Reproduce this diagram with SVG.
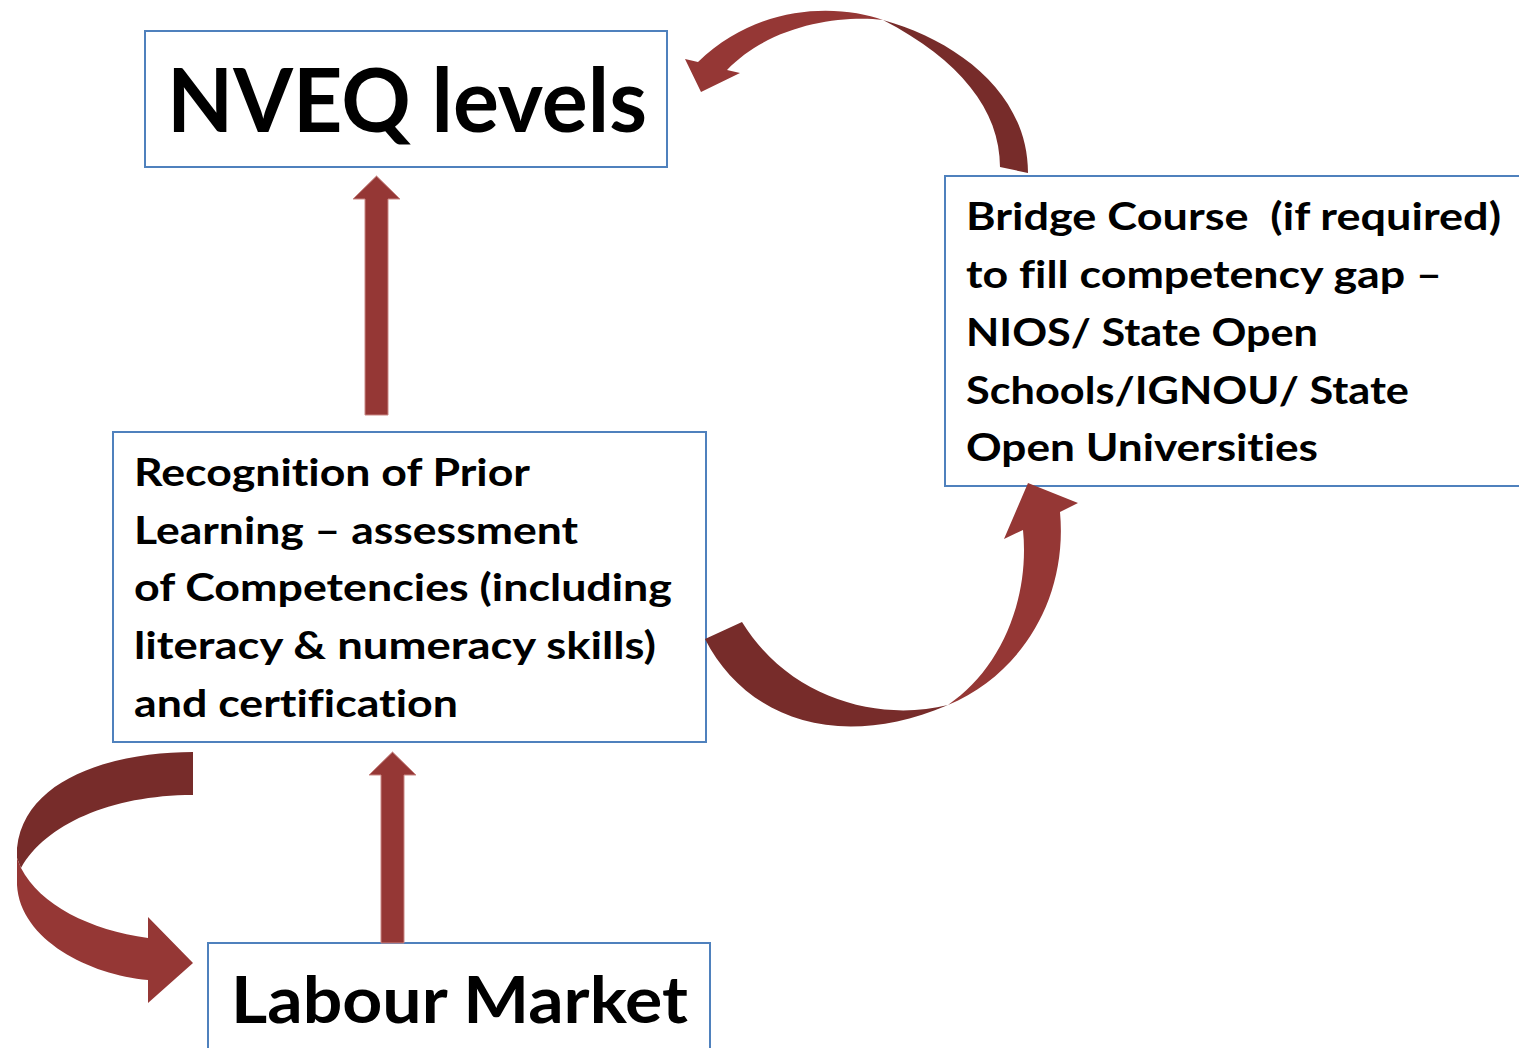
<svg xmlns="http://www.w3.org/2000/svg" width="1519" height="1048" viewBox="0 0 1519 1048">
  <style>
    .box { fill: #ffffff; stroke: #4f81bd; stroke-width: 2; }
    .txt { font-family: Lato, "Open Sans", "Liberation Sans", sans-serif; font-weight: bold; fill: #000000; white-space: pre; font-variant-ligatures: none; }
    .body { font-size: 38px; }
    .big { font-size: 88px; }
    .mid { font-size: 65px; }
    .front { fill: #953735; }
    .back { fill: #772c2a; }
    .straight { fill: #953735; stroke: #c98784; stroke-width: 1; }
  </style>
  <rect width="1519" height="1048" fill="#ffffff"/>

  <g id="node-nveq">
    <rect class="box" x="145" y="31" width="522" height="136"/>
    <text class="txt big" x="167" y="132" textLength="480" lengthAdjust="spacingAndGlyphs">NVEQ levels</text>
  </g>

  <g id="node-bridge">
    <rect class="box" x="945" y="176" width="590" height="310"/>
    <text class="txt body" x="966" y="230" textLength="535" lengthAdjust="spacingAndGlyphs" xml:space="preserve">Bridge Course  (if required)</text>
    <text class="txt body" x="966" y="288" textLength="476" lengthAdjust="spacingAndGlyphs">to fill competency gap –</text>
    <text class="txt body" x="966" y="346" textLength="352" lengthAdjust="spacingAndGlyphs">NIOS/ State Open</text>
    <text class="txt body" x="966" y="404" textLength="443" lengthAdjust="spacingAndGlyphs">Schools/IGNOU/ State</text>
    <text class="txt body" x="966" y="461" textLength="352" lengthAdjust="spacingAndGlyphs">Open Universities</text>
  </g>

  <g id="node-rpl">
    <rect class="box" x="113" y="432" width="593" height="310"/>
    <text class="txt body" x="134" y="486" textLength="396" lengthAdjust="spacingAndGlyphs">Recognition of Prior</text>
    <text class="txt body" x="134" y="544" textLength="444" lengthAdjust="spacingAndGlyphs">Learning – assessment</text>
    <text class="txt body" x="134" y="601" textLength="538" lengthAdjust="spacingAndGlyphs">of Competencies (including</text>
    <text class="txt body" x="134" y="659" textLength="522" lengthAdjust="spacingAndGlyphs">literacy &amp; numeracy skills)</text>
    <text class="txt body" x="134" y="717" textLength="324" lengthAdjust="spacingAndGlyphs">and certification</text>
  </g>

  <g id="node-labour">
    <rect class="box" x="208" y="943" width="502" height="120"/>
    <text class="txt mid" x="231" y="1023" textLength="457" lengthAdjust="spacingAndGlyphs">Labour Market</text>
  </g>

  <g id="connectors">
    <!-- RPL up to NVEQ levels -->
    <polygon class="straight" points="365,415 388,415 388,199 400,199 376.5,176 353,199 365,199"/>
    <!-- Labour Market up to RPL -->
    <polygon class="straight" points="381,943 404,943 404,775 416,775 392.5,752 369,775 381,775"/>

    <!-- Bridge Course back over to NVEQ levels -->
    <path class="back" d="M 883 20 C 955 40, 1028 92, 1028 173 L 1000 167 C 1000 110, 960 60, 883 20 Z"/>
    <path class="front" d="M 883 20 C 840 5, 760 2, 698 62 L 685 59 L 701 92 L 740 73 L 727 70 C 770 25, 840 15, 883 20 Z"/>

    <!-- RPL round to Bridge Course -->
    <path class="back" d="M 705 639 C 742 712, 830 755, 948 705 C 880 722, 790 700, 742 622 Z"/>
    <path class="front" d="M 948 705 C 1020 675, 1068 600, 1060 512 L 1078 503 L 1028 483 L 1004 539 L 1023 530 C 1030 600, 1000 670, 948 705 Z"/>

    <!-- RPL round to Labour Market -->
    <path class="back" d="M 193 752 C 120 752, 25 775, 17 848 L 17 858 L 21 868 C 45 825, 110 795, 193 795 Z"/>
    <path class="front" d="M 21 868 L 17 858 L 17 885 C 20 940, 90 975, 148 980 L 148 1003 L 193 963 L 148 917 L 148 938 C 90 930, 40 905, 21 868 Z"/>
  </g>
</svg>
